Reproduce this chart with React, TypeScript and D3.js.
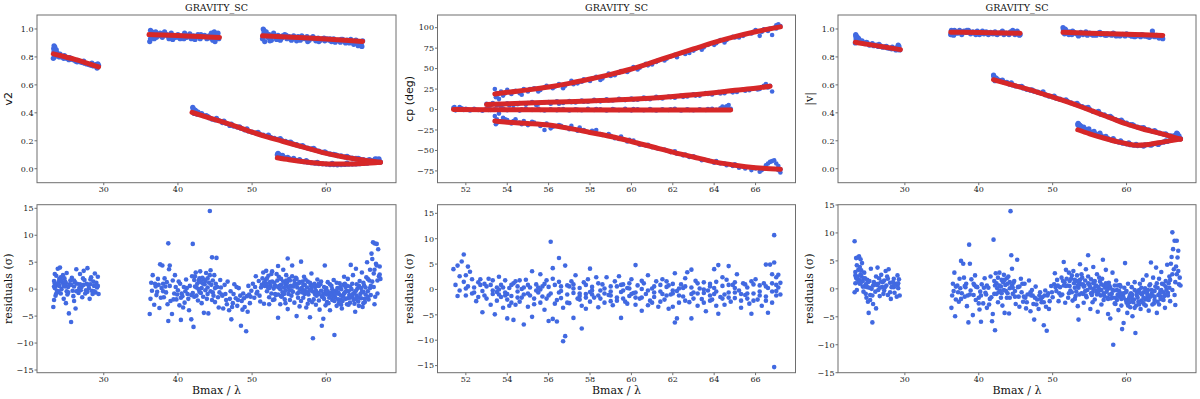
import React from 'react';
import * as d3 from 'd3';

type P = [number, number];

const TITLE = 'GRAVITY_SC';
const XLABEL = 'Bmax / λ';
const RES_LABEL = 'residuals (σ)';

const XTICKS_WIDE = [30, 40, 50, 60];
const XTICKS_CP = [52, 54, 56, 58, 60, 62, 64, 66];
const YTICKS_VIS = [0, 0.2, 0.4, 0.6, 0.8, 1.0];
const YTICKS_CP = [-75, -50, -25, 0, 25, 50, 75, 100];
const YTICKS_RES = [-15, -10, -5, 0, 5, 10, 15];

// ---------- V2 model ----------
const V2_MODEL_A: P[] = [[23.2, 0.822], [24.5, 0.805], [26, 0.784], [27.5, 0.76], [29.3, 0.728]];
const V2_MODEL_B: P[] = [[36.1, 0.96], [38, 0.957], [40, 0.953], [42, 0.948], [44, 0.943], [45.6, 0.939]];
const V2_MODEL_C: P[] = [[51.4, 0.951], [54, 0.945], [57, 0.937], [60, 0.928], [63, 0.918], [64.9, 0.911]];
const V2_MODEL_D: P[] = [[41.9, 0.403], [44, 0.368], [46, 0.335], [48, 0.3], [50, 0.262], [52, 0.228], [54, 0.198], [56, 0.168], [58, 0.138], [60, 0.11], [62, 0.088], [64, 0.07], [66, 0.055], [67.3, 0.046]];
const V2_MODEL_E: P[] = [[53.4, 0.078], [55, 0.064], [57, 0.05], [59, 0.039], [61, 0.033], [63, 0.033], [65, 0.037], [67.3, 0.046]];

// ---------- V2 data ----------
const V2_DATA_A: P[] = [[23.2, 0.79], [23.25, 0.86], [23.3, 0.88], [23.35, 0.8], [23.5, 0.84], [23.7, 0.83], [23.9, 0.81], [24.1, 0.82], [24.4, 0.8], [24.7, 0.81], [25.0, 0.79], [25.3, 0.78], [25.6, 0.785], [25.9, 0.78], [26.2, 0.77], [26.5, 0.775], [26.8, 0.765], [27.1, 0.76], [27.4, 0.755], [27.7, 0.75], [28.0, 0.745], [28.3, 0.74], [28.6, 0.735], [28.9, 0.745], [29.1, 0.72], [29.3, 0.74]];
const V2_DATA_B: P[] = [[36.2, 0.91], [36.3, 0.99], [36.4, 0.95], [36.6, 0.97], [36.8, 0.93], [37.0, 0.98], [37.3, 0.95], [37.6, 0.97], [37.9, 0.94], [38.2, 0.98], [38.5, 0.96], [38.8, 0.93], [39.1, 0.97], [39.4, 0.95], [39.7, 0.94], [40.0, 0.96], [40.3, 0.93], [40.6, 0.95], [40.9, 0.97], [41.2, 0.94], [41.5, 0.955], [41.8, 0.93], [42.1, 0.95], [42.4, 0.94], [42.7, 0.96], [43.0, 0.93], [43.3, 0.945], [43.6, 0.955], [43.9, 0.93], [44.2, 0.95], [44.5, 0.97], [44.7, 0.92], [44.9, 0.98], [45.1, 0.94], [45.3, 0.96], [45.5, 0.93]];
const V2_DATA_C: P[] = [[51.4, 0.93], [51.5, 1.0], [51.6, 0.97], [51.7, 0.91], [51.9, 0.98], [52.1, 0.94], [52.3, 0.96], [52.6, 0.92], [52.9, 0.97], [53.2, 0.94], [53.5, 0.955], [53.8, 0.92], [54.1, 0.95], [54.4, 0.96], [54.7, 0.93], [55.0, 0.945], [55.3, 0.92], [55.6, 0.95], [55.9, 0.935], [56.2, 0.945], [56.5, 0.92], [56.8, 0.94], [57.1, 0.93], [57.4, 0.945], [57.7, 0.92], [58.0, 0.935], [58.3, 0.93], [58.6, 0.915], [58.9, 0.935], [59.2, 0.92], [59.5, 0.93], [59.8, 0.915], [60.1, 0.93], [60.4, 0.92], [60.7, 0.91], [61.0, 0.93], [61.3, 0.915], [61.6, 0.92], [61.9, 0.905], [62.2, 0.925], [62.5, 0.91], [62.8, 0.92], [63.1, 0.9], [63.4, 0.915], [63.7, 0.89], [64.0, 0.92], [64.3, 0.88], [64.6, 0.9], [64.8, 0.875], [64.9, 0.915]];
const V2_DATA_D: P[] = [[42.0, 0.44], [42.1, 0.42], [42.2, 0.395], [42.4, 0.415], [42.7, 0.405], [43.0, 0.39], [43.4, 0.38], [43.8, 0.38], [44.2, 0.365], [44.6, 0.355], [45.0, 0.35], [45.5, 0.345], [46.0, 0.33], [46.5, 0.325], [47.0, 0.31], [47.5, 0.305], [48.0, 0.298], [48.5, 0.29], [49.0, 0.278], [49.5, 0.27], [50.0, 0.262], [50.5, 0.255], [51.0, 0.248], [51.5, 0.24], [52.0, 0.232], [52.5, 0.225], [53.0, 0.218], [53.5, 0.21], [54.0, 0.203], [54.5, 0.195], [55.0, 0.188], [55.5, 0.178], [56.0, 0.172], [56.5, 0.162], [57.0, 0.157], [57.5, 0.148], [58.0, 0.142], [58.5, 0.135], [59.0, 0.127], [59.5, 0.118], [60.0, 0.114], [60.5, 0.106], [61.0, 0.102], [61.5, 0.094], [62.0, 0.092], [62.5, 0.085], [63.0, 0.082], [63.5, 0.076], [64.0, 0.074], [64.5, 0.068], [65.0, 0.066], [65.5, 0.06], [66.0, 0.06], [66.5, 0.062], [66.8, 0.068], [67.0, 0.058], [67.2, 0.05]];
const V2_DATA_E: P[] = [[53.4, 0.1], [53.5, 0.11], [53.6, 0.085], [53.8, 0.095], [54.0, 0.09], [54.3, 0.082], [54.6, 0.075], [55.0, 0.072], [55.4, 0.066], [55.8, 0.062], [56.2, 0.058], [56.6, 0.055], [57.0, 0.05], [57.5, 0.047], [58.0, 0.043], [58.5, 0.04], [59.0, 0.037], [59.5, 0.035], [60.0, 0.033], [60.5, 0.03], [61.0, 0.03], [61.5, 0.028], [62.0, 0.03], [62.5, 0.031], [63.0, 0.032], [63.5, 0.033], [64.0, 0.034], [64.5, 0.036], [65.0, 0.038], [65.5, 0.04], [66.0, 0.045], [66.4, 0.05], [66.8, 0.058], [67.1, 0.062], [67.3, 0.048]];
const V2_DATA_SCATTER: P[] = [[23.3, 0.84], [23.4, 0.87], [23.6, 0.85], [24.0, 0.8], [24.6, 0.79], [25.4, 0.795], [26.4, 0.765], [27.3, 0.77], [28.4, 0.755], [29.2, 0.75],
  [36.3, 0.93], [36.5, 0.98], [37.1, 0.94], [37.8, 0.96], [38.6, 0.95], [39.3, 0.925], [40.1, 0.94], [40.8, 0.93], [41.6, 0.965], [42.3, 0.925], [43.1, 0.96], [43.8, 0.945], [44.4, 0.935], [44.8, 0.955], [45.0, 0.91], [45.4, 0.97],
  [51.5, 0.95], [51.6, 0.99], [52.0, 0.96], [52.4, 0.915], [52.8, 0.95], [53.3, 0.925], [54.0, 0.935], [54.6, 0.955], [55.4, 0.935], [56.0, 0.915], [56.7, 0.95], [57.5, 0.91], [58.2, 0.945], [59.0, 0.91], [59.7, 0.935], [60.5, 0.93], [61.2, 0.905], [62.0, 0.925], [62.6, 0.9], [63.3, 0.925], [63.9, 0.905], [64.4, 0.91], [64.7, 0.89],
  [42.05, 0.43], [42.3, 0.42], [42.6, 0.39], [43.2, 0.395], [44.0, 0.375], [45.2, 0.36], [46.2, 0.34], [47.2, 0.32], [48.3, 0.3], [49.3, 0.285], [50.8, 0.26], [52.2, 0.24], [53.8, 0.215], [55.2, 0.19], [56.8, 0.165], [58.3, 0.145], [59.8, 0.12], [61.3, 0.1], [62.8, 0.088], [64.3, 0.075], [65.8, 0.065], [66.6, 0.07], [67.1, 0.07],
  [53.45, 0.105], [53.7, 0.1], [54.1, 0.095], [54.8, 0.082], [55.6, 0.075], [56.4, 0.065], [57.3, 0.058], [58.8, 0.045], [60.8, 0.038], [62.8, 0.04], [64.8, 0.044], [66.2, 0.055], [66.9, 0.065]];

// ---------- CP model ----------
const CP_MODEL_FLAT: P[] = [[51.4, 0], [55, -0.3], [60, -0.5], [64.8, -0.6]];
const CP_MODEL_UP: P[] = [[53.4, 19], [54, 21], [55, 24], [56, 27.5], [57, 32], [58, 37.3], [59, 43], [60, 49.5], [61, 57.5], [62, 66], [63, 74], [64, 82], [65, 89], [66, 95], [67.2, 101]];
const CP_MODEL_MID: P[] = [[53, 6], [56, 8.8], [58, 10.5], [60, 12.5], [62, 16], [64, 20.5], [65, 23.5], [66, 26], [66.7, 28.5]];
const CP_MODEL_LOW: P[] = [[53.4, -14], [54, -15.5], [55, -17], [56, -19], [57, -23], [58, -28], [59, -33], [60, -39], [61, -45.5], [62, -52], [63, -58], [64, -64], [65, -68], [66, -71], [67.2, -73]];

// ---------- CP data ----------
const CP_DATA_FLAT: P[] = [[51.4, 2], [51.5, -1], [51.6, 0.5], [51.7, 3], [51.8, 1.5], [51.9, -0.5], [52.0, 1], [52.2, -1.2], [52.4, 0.8], [52.6, -0.5], [52.8, -1.5], [53.0, 1.2], [53.2, -0.6], [53.4, 0.3], [53.6, -1.5], [53.8, 1.2], [54.0, -0.8], [54.3, 0.6], [54.6, -1.3], [54.9, 0.9], [55.2, -0.4], [55.5, 1.1], [55.8, -1.2], [56.1, 0.4], [56.4, -0.8], [56.7, 0.7], [57.0, -1.1], [57.3, 0.3], [57.6, -0.9], [57.9, 0.8], [58.2, -0.6], [58.5, 0.4], [58.8, -1.2], [59.1, 0.5], [59.4, -0.7], [59.7, 0.9], [60.0, -1.0], [60.3, 0.2], [60.6, -0.8], [60.9, 0.6], [61.2, -1.1], [61.5, 0.3], [61.8, -0.6], [62.1, 0.8], [62.4, -1.1], [62.7, 0.2], [63.0, -0.9], [63.3, 0.4], [63.6, -0.5], [63.9, 1.0], [64.1, -0.2], [64.3, 1.5], [64.5, 2.5], [64.6, 4], [64.7, 5.5], [64.8, 1],
  [51.45, 3], [51.75, 1], [52.1, 0], [52.5, -0.2], [53.1, -0.5], [53.9, -0.3], [54.7, 0.2], [55.6, -0.5], [56.5, 0.2], [57.4, -0.4], [58.3, 0.5], [59.2, -0.3], [60.1, 0.6], [61.0, -0.5], [61.9, 0.4], [62.8, -0.6], [63.7, 0.5], [64.4, 3.5], [64.65, 2.5]];
const CP_DATA_MID: P[] = [[53.0, 7], [53.1, 4], [53.3, 8], [53.5, 5], [53.7, 3.5], [54.0, 7.5], [54.3, 5.5], [54.6, 8], [54.9, 6], [55.2, 9], [55.5, 7], [55.8, 8.5], [56.1, 7], [56.4, 10], [56.7, 8], [57.0, 10.5], [57.3, 8.5], [57.6, 11], [57.9, 9.5], [58.2, 12], [58.5, 10], [58.8, 12.5], [59.1, 11], [59.4, 13], [59.7, 11.5], [60.0, 13.5], [60.3, 12], [60.6, 14.5], [60.9, 12.5], [61.2, 15.5], [61.5, 13.5], [61.8, 16], [62.1, 14.5], [62.4, 17], [62.7, 16], [63.0, 18.5], [63.3, 17], [63.6, 20], [63.9, 18.5], [64.2, 21.5], [64.5, 20], [64.8, 22.5], [65.1, 21.5], [65.4, 24.5], [65.7, 23.5], [66.0, 26], [66.2, 25], [66.4, 29], [66.5, 31], [66.6, 27], [66.8, 22],
  [53.2, 5], [53.6, 7], [54.1, 5], [54.5, 6.5], [55.0, 8], [55.4, 5.5], [56.0, 9], [56.5, 7], [57.1, 9], [57.7, 9.5], [58.3, 10.5], [58.9, 11], [59.5, 12], [60.1, 12], [60.7, 13], [61.3, 14], [61.9, 15], [62.5, 15.5], [63.1, 17], [63.7, 19], [64.3, 19.5], [64.9, 21], [65.5, 23], [66.1, 24.5], [66.7, 29]];
const CP_DATA_UP: P[] = [[53.4, 25], [53.45, 15], [53.5, 20], [53.6, 13], [53.7, 22], [53.8, 17], [54.0, 24], [54.2, 19], [54.4, 23], [54.6, 20], [54.8, 25], [55.0, 22], [55.3, 26], [55.6, 24], [55.9, 29], [56.2, 26], [56.5, 31], [56.8, 29], [57.1, 35], [57.4, 32], [57.7, 37], [58.0, 35], [58.3, 40], [58.6, 38], [58.9, 44], [59.2, 42], [59.5, 47], [59.8, 46], [60.1, 52], [60.4, 51], [60.7, 56], [61.0, 55], [61.3, 60], [61.6, 60], [61.9, 65], [62.2, 64], [62.5, 70], [62.8, 69], [63.1, 74], [63.4, 73], [63.7, 79], [64.0, 79], [64.3, 85], [64.6, 85], [64.9, 89], [65.2, 88], [65.5, 92], [65.8, 93], [66.0, 97], [66.2, 90], [66.4, 98], [66.6, 96], [66.8, 91], [66.9, 100], [67.0, 103], [67.1, 104], [67.2, 102],
  [53.5, 17], [53.9, 20], [54.3, 22], [54.7, 18], [55.1, 25], [55.5, 22], [55.8, 27], [56.3, 28], [56.7, 26], [57.2, 31], [57.6, 34], [58.1, 38], [58.5, 36], [59.0, 41], [59.4, 45], [59.9, 48], [60.3, 49], [60.8, 54], [61.2, 58], [61.7, 62], [62.1, 67], [62.6, 68], [63.0, 72], [63.5, 76], [64.1, 81], [64.5, 82], [65.0, 88], [65.4, 90], [65.9, 95], [66.3, 95], [66.7, 99], [67.0, 99]];
const CP_DATA_LOW: P[] = [[53.4, -8], [53.45, -18], [53.5, -12], [53.6, -5], [53.7, -14], [53.8, -10], [54.0, -13], [54.2, -17], [54.4, -12], [54.6, -16], [54.8, -14], [55.0, -19], [55.3, -16], [55.6, -20], [55.8, -25], [55.9, -17], [56.2, -21], [56.5, -19], [56.8, -22], [57.1, -20], [57.4, -26], [57.7, -25], [58.0, -28], [58.3, -25], [58.6, -31], [58.9, -30], [59.2, -35], [59.5, -33], [59.8, -39], [60.1, -38], [60.4, -43], [60.7, -44], [61.0, -46], [61.3, -48], [61.6, -49], [61.9, -52], [62.2, -54], [62.5, -56], [62.8, -58], [63.1, -59], [63.4, -62], [63.7, -62], [64.0, -65], [64.3, -66], [64.6, -68], [64.9, -69], [65.2, -71], [65.5, -72], [65.8, -74], [66.0, -72], [66.2, -76], [66.4, -72], [66.5, -68], [66.7, -64], [66.9, -62], [67.0, -66], [67.1, -69], [67.2, -77], [67.2, -73],
  [53.5, -16], [53.9, -12], [54.3, -14], [54.7, -18], [55.2, -15], [55.7, -18], [56.1, -23], [56.6, -20], [57.0, -24], [57.5, -22], [58.1, -26], [58.5, -30], [59.0, -32], [59.4, -36], [59.9, -37], [60.3, -41], [60.8, -43], [61.2, -47], [61.7, -50], [62.1, -51], [62.6, -55], [63.0, -57], [63.5, -61], [64.1, -63], [64.5, -66], [65.0, -67], [65.4, -70], [65.9, -71], [66.3, -74], [66.6, -66], [66.8, -63], [67.1, -74]];

// ---------- |V| model ----------
const VIS_MODEL_A: P[] = [[23.3, 0.905], [25, 0.89], [27, 0.873], [29.4, 0.852]];
const VIS_MODEL_B: P[] = [[36.2, 0.977], [40, 0.975], [45.6, 0.97]];
const VIS_MODEL_C: P[] = [[51.4, 0.976], [55, 0.97], [60, 0.962], [64.9, 0.954]];
const VIS_MODEL_D: P[] = [[42, 0.637], [44, 0.607], [46, 0.578], [48, 0.547], [50, 0.513], [52, 0.478], [54, 0.44], [56, 0.4], [58, 0.36], [60, 0.32], [62, 0.288], [64, 0.26], [66, 0.232], [67.3, 0.212]];
const VIS_MODEL_E: P[] = [[53.4, 0.279], [55, 0.25], [57, 0.218], [59, 0.19], [60, 0.179], [61.3, 0.168], [63, 0.174], [65, 0.192], [67.3, 0.212]];

// ---------- |V| data ----------
const VIS_DATA_A: P[] = [[23.3, 0.9], [23.35, 0.96], [23.4, 0.93], [23.5, 0.945], [23.6, 0.915], [23.8, 0.925], [24.0, 0.91], [24.3, 0.905], [24.6, 0.895], [24.9, 0.9], [25.2, 0.885], [25.5, 0.89], [25.8, 0.88], [26.1, 0.885], [26.4, 0.875], [26.7, 0.88], [27.0, 0.87], [27.3, 0.872], [27.6, 0.865], [27.9, 0.862], [28.2, 0.858], [28.5, 0.86], [28.8, 0.85], [29.0, 0.87], [29.1, 0.885], [29.3, 0.85]];
const VIS_DATA_B: P[] = [[36.2, 0.96], [36.3, 0.99], [36.4, 0.975], [36.6, 0.955], [36.8, 0.985], [37.1, 0.97], [37.4, 0.99], [37.7, 0.96], [38.0, 0.985], [38.3, 0.975], [38.6, 0.99], [38.9, 0.965], [39.2, 0.98], [39.5, 0.97], [39.8, 0.985], [40.1, 0.96], [40.4, 0.975], [40.7, 0.965], [41.0, 0.98], [41.3, 0.96], [41.6, 0.975], [41.9, 0.965], [42.2, 0.98], [42.5, 0.96], [42.8, 0.97], [43.1, 0.975], [43.4, 0.96], [43.7, 0.97], [44.0, 0.965], [44.3, 0.98], [44.6, 0.99], [44.9, 0.96], [45.2, 0.985], [45.5, 0.955]];
const VIS_DATA_C: P[] = [[51.4, 1.01], [51.5, 0.985], [51.6, 0.965], [51.8, 0.99], [52.0, 0.97], [52.3, 0.98], [52.6, 0.96], [52.9, 0.975], [53.2, 0.965], [53.5, 0.95], [53.8, 0.975], [54.1, 0.96], [54.4, 0.97], [54.7, 0.955], [55.0, 0.97], [55.3, 0.96], [55.6, 0.965], [55.9, 0.955], [56.2, 0.97], [56.5, 0.96], [56.8, 0.965], [57.1, 0.955], [57.4, 0.965], [57.7, 0.96], [58.0, 0.955], [58.3, 0.965], [58.6, 0.95], [58.9, 0.96], [59.2, 0.955], [59.5, 0.962], [59.8, 0.95], [60.1, 0.96], [60.4, 0.955], [60.7, 0.948], [61.0, 0.96], [61.3, 0.95], [61.6, 0.955], [61.9, 0.945], [62.2, 0.958], [62.5, 0.948], [62.8, 0.952], [63.1, 0.94], [63.4, 0.95], [63.5, 0.985], [63.8, 0.945], [64.1, 0.955], [64.4, 0.935], [64.7, 0.95], [64.9, 0.93]];
const VIS_DATA_D: P[] = [[42.0, 0.67], [42.1, 0.645], [42.2, 0.63], [42.4, 0.645], [42.7, 0.635], [43.0, 0.63], [43.4, 0.62], [43.8, 0.618], [44.2, 0.605], [44.6, 0.6], [45.0, 0.592], [45.5, 0.588], [46.0, 0.578], [46.5, 0.568], [47.0, 0.562], [47.5, 0.555], [48.0, 0.548], [48.5, 0.54], [49.0, 0.53], [49.5, 0.52], [50.0, 0.515], [50.5, 0.505], [51.0, 0.498], [51.5, 0.49], [52.0, 0.482], [52.5, 0.472], [53.0, 0.463], [53.5, 0.455], [54.0, 0.445], [54.5, 0.435], [55.0, 0.425], [55.5, 0.41], [56.0, 0.405], [56.5, 0.39], [57.0, 0.385], [57.5, 0.372], [58.0, 0.365], [58.5, 0.352], [59.0, 0.345], [59.5, 0.335], [60.0, 0.326], [60.5, 0.315], [61.0, 0.308], [61.5, 0.298], [62.0, 0.293], [62.5, 0.283], [63.0, 0.278], [63.5, 0.268], [64.0, 0.264], [64.5, 0.255], [65.0, 0.248], [65.5, 0.24], [66.0, 0.236], [66.5, 0.228], [66.8, 0.24], [67.0, 0.222], [67.2, 0.215]];
const VIS_DATA_E: P[] = [[53.4, 0.315], [53.5, 0.32], [53.6, 0.29], [53.8, 0.305], [54.0, 0.295], [54.3, 0.288], [54.6, 0.28], [55.0, 0.268], [55.4, 0.26], [55.8, 0.25], [56.2, 0.242], [56.6, 0.235], [57.0, 0.225], [57.5, 0.215], [58.0, 0.205], [58.5, 0.198], [59.0, 0.19], [59.5, 0.183], [60.0, 0.178], [60.5, 0.172], [61.0, 0.168], [61.5, 0.166], [62.0, 0.168], [62.5, 0.17], [63.0, 0.173], [63.5, 0.176], [64.0, 0.18], [64.5, 0.184], [65.0, 0.19], [65.5, 0.195], [66.0, 0.205], [66.4, 0.218], [66.7, 0.245], [66.9, 0.25], [67.1, 0.235], [67.3, 0.215]];
const VIS_DATA_SCATTER: P[] = [[23.35, 0.95], [23.45, 0.92], [23.7, 0.935], [24.2, 0.915], [24.8, 0.905], [25.6, 0.895], [26.5, 0.89], [27.5, 0.875], [28.3, 0.87], [29.2, 0.875],
  [36.3, 0.96], [36.7, 0.99], [37.5, 0.975], [38.4, 0.99], [39.6, 0.96], [40.5, 0.985], [41.4, 0.97], [42.3, 0.965], [43.2, 0.985], [44.1, 0.96], [44.7, 0.975], [45.3, 0.97], [45.6, 0.96],
  [51.45, 0.995], [51.7, 1.0], [52.2, 0.96], [52.7, 0.985], [53.6, 0.965], [54.5, 0.98], [55.5, 0.955], [56.4, 0.975], [57.3, 0.955], [58.2, 0.97], [59.1, 0.95], [60.0, 0.965], [61.1, 0.945], [62.0, 0.96], [62.9, 0.945], [63.6, 0.96], [64.3, 0.945], [64.8, 0.94],
  [42.05, 0.66], [42.3, 0.65], [43.2, 0.635], [44.4, 0.615], [45.8, 0.59], [47.2, 0.565], [48.7, 0.55], [50.2, 0.52], [51.8, 0.492], [53.3, 0.468], [54.8, 0.44], [56.2, 0.41], [57.8, 0.375], [59.3, 0.348], [60.8, 0.316], [62.3, 0.295], [63.8, 0.272], [65.3, 0.25], [66.4, 0.235], [67.0, 0.235],
  [53.45, 0.325], [53.7, 0.31], [54.2, 0.298], [54.9, 0.285], [55.6, 0.268], [56.4, 0.255], [57.2, 0.232], [58.2, 0.215], [59.2, 0.2], [60.3, 0.185], [61.3, 0.175], [62.3, 0.162], [63.3, 0.168], [64.3, 0.174], [65.3, 0.2], [66.0, 0.215], [66.5, 0.23], [66.8, 0.255]];

// ---------- residuals: V2 ----------
const RES_V2: P[] = [
  [23.2, -3.3], [23.3, -2.0], [23.3, 1.5], [23.4, 2.8], [23.4, 0.2], [23.5, -1.2], [23.6, 2.5], [23.7, 0.8], [23.8, 3.8], [23.9, -0.5], [24.0, 1.9], [24.1, 4.0], [24.2, -0.8], [24.4, 1.2], [24.5, 2.6], [24.6, -1.8], [24.8, 0.5], [24.9, -2.6], [25.0, 3.0], [25.1, -1.0], [25.3, -4.5], [25.4, 0.9], [25.6, -6.1], [25.7, 2.1], [25.8, -0.3], [26.0, -2.2], [26.2, -3.6], [26.3, 3.7], [26.4, 1.0], [26.6, -0.7], [26.8, 2.8], [27.0, 0.4], [27.1, -1.5], [27.3, 3.4], [27.4, 1.7], [27.6, -0.2], [27.8, 3.9], [27.9, 0.8], [28.1, -1.8], [28.3, 2.2], [28.5, -0.9], [28.6, 1.4], [28.8, 2.9], [28.9, -0.6], [29.1, 0.3], [29.2, 2.3], [29.3, -0.9],
  [24.3, 0.0], [25.2, 0.4], [26.1, 1.3], [26.9, -0.2], [27.7, 1.0], [24.7, 2.0], [25.9, -1.3], [28.7, 0.6], [23.5, 0.6], [24.9, 1.1], [26.7, 0.2], [28.2, 0.9],
  [36.2, -4.6], [36.3, -1.8], [36.4, 1.2], [36.5, -0.3], [36.6, 2.6], [36.8, -2.9], [37.0, 0.5], [37.1, -1.1], [37.3, 1.9], [37.5, -3.5], [37.6, 4.6], [37.8, 0.2], [37.9, 4.4], [38.1, -1.5], [38.2, 2.0], [38.4, -0.6], [38.5, 1.3], [38.7, 8.5], [38.7, -5.9], [38.8, 3.7], [38.9, 4.4], [39.0, -2.2], [39.2, -4.6], [39.3, 1.6], [39.5, -0.8], [39.6, 2.6], [39.8, -1.9], [40.0, -0.2], [40.2, -3.0], [40.3, 1.0], [40.4, -5.7], [40.6, -1.3], [40.8, 0.4], [40.9, -2.5], [41.1, 1.8], [41.3, -0.9], [41.5, -3.9], [41.6, 0.6], [41.8, -5.6], [41.9, 2.4], [42.0, 8.4], [42.1, -7.0], [42.2, -1.4], [42.4, 3.1], [42.5, 0.3], [42.7, -2.1], [42.8, 1.6], [43.0, 3.3], [43.1, -0.7], [43.3, 2.1], [43.5, -4.4], [43.6, 0.9], [43.8, 3.0], [43.9, -1.8], [44.1, -4.5], [44.2, 1.2], [44.3, 14.5], [44.4, 3.5], [44.6, 5.9], [44.7, -0.6], [44.9, 2.6], [45.0, -2.4], [45.2, 5.8], [45.3, 0.4], [45.5, -3.4], [45.7, 1.7], [45.9, -1.0], [46.1, -3.6], [46.3, 0.8], [46.5, -2.0], [46.7, 1.4], [46.9, -3.9], [47.1, -0.4], [47.2, -5.6], [47.4, -2.6], [47.6, 0.9], [47.8, -1.7], [48.0, -3.1], [48.2, 0.2], [48.5, -6.8], [48.6, -2.2], [48.8, -0.8], [49.0, -3.3], [49.2, -7.8], [49.3, -1.3], [49.5, 0.6], [49.7, -2.6], [49.9, -0.3],
  [42.3, 0.5], [42.9, -0.5], [43.4, 1.0], [43.7, -0.2], [44.0, 2.0], [44.5, 0.8], [44.8, -1.2], [43.2, 0.2], [42.6, 1.0], [38.3, 0.5], [38.0, 1.0], [39.9, -1.0], [40.5, -0.8], [37.2, -0.5], [41.0, -0.4], [46.0, -1.2], [47.0, -1.8], [48.4, -1.2],
  [50.1, 1.0], [50.3, -1.6], [50.5, 2.4], [50.7, -0.5], [50.9, 1.5], [51.1, -2.3], [51.3, 0.8], [51.5, 3.1], [51.6, -2.7], [51.8, 1.7], [51.9, 3.4], [52.0, -0.4], [52.2, 2.5], [52.3, -1.5], [52.5, 0.6], [52.7, 3.3], [52.8, -2.0], [53.0, 1.2], [53.1, -0.9], [53.3, 2.8], [53.5, -5.3], [53.5, 4.3], [53.6, 0.3], [53.8, -2.8], [53.9, 1.9], [54.1, -0.6], [54.2, 3.6], [54.4, -1.9], [54.5, 0.9], [54.6, 2.6], [54.8, 5.7], [54.8, -3.7], [55.0, -0.2], [55.1, 1.6], [55.3, -1.2], [55.4, 4.4], [55.6, 0.5], [55.7, -2.5], [55.9, 2.1], [56.0, -5.0], [56.1, -0.8], [56.3, 1.1], [56.4, -3.2], [56.6, 5.1], [56.7, 0.2], [56.9, -1.6], [57.0, 2.3], [57.2, -0.4], [57.3, -3.4], [57.5, 1.4], [57.6, -1.0], [57.8, -5.2], [57.9, 0.7], [58.0, 2.9], [58.2, -9.1], [58.3, -1.9], [58.5, 0.4], [58.6, -2.9], [58.8, 1.8], [58.9, -0.7], [59.1, -3.8], [59.2, 0.9], [59.4, -6.8], [59.5, -1.3], [59.6, -5.5], [59.8, 4.4], [59.9, -0.2], [60.1, -2.4], [60.2, 1.3], [60.4, -1.0], [60.5, -3.9], [60.7, 0.6], [60.8, -2.0], [61.0, 1.7], [61.1, -8.5], [61.2, -1.5], [61.4, -3.1], [61.5, 0.2], [61.7, -2.6], [61.8, 1.1], [62.0, -1.2], [62.1, -3.6], [62.3, 0.8], [62.4, 2.3], [62.6, -1.8], [62.7, -0.3], [62.9, 1.9], [63.0, -2.9], [63.2, 0.5], [63.3, 4.5], [63.5, -1.4], [63.6, 2.6], [63.8, -0.6], [63.9, -4.2], [64.0, 3.8], [64.2, 0.1], [64.3, -2.3], [64.5, 1.5], [64.6, -0.9], [64.8, 3.1], [64.9, -3.3], [65.1, 0.7], [65.2, -1.8], [65.4, 2.2], [65.5, 5.0], [65.6, -0.4], [65.8, 1.6], [65.9, 3.6], [66.0, -1.1], [66.1, 6.6], [66.2, 5.6], [66.3, 8.7], [66.4, 2.9], [66.5, 8.5], [66.5, -2.8], [66.6, -1.4], [66.7, 4.7], [66.8, 8.4], [66.8, 4.4], [66.9, 1.6], [67.0, 7.4], [67.1, 2.4], [67.2, 2.7], [67.3, 1.9],
  [52.1, 0.4], [52.4, 1.3], [52.6, -0.8], [52.9, 0.1], [53.2, -1.1], [53.4, 1.6], [53.7, 0.6], [54.0, -1.4], [54.3, 0.3], [54.7, 1.2], [54.9, -0.9], [55.2, 0.6], [55.5, -0.5], [55.8, 1.0], [56.2, -1.6], [56.5, 0.0], [56.8, 1.4], [57.1, -0.9], [57.4, 0.3], [57.7, -2.0], [58.1, -0.4], [58.4, 1.0], [58.7, -1.2], [59.0, 0.6], [59.3, -0.3], [59.7, -1.8], [60.0, 0.2], [60.3, -2.6], [60.6, -0.7], [60.9, -1.3], [61.3, -0.3], [61.6, -1.9], [61.9, 0.4], [62.2, -2.2], [62.5, -0.6], [62.8, -2.8], [63.1, -1.1], [63.4, 0.0], [63.7, -2.0], [64.1, -1.2], [64.4, 0.6], [64.7, -1.7], [65.0, -0.5], [65.3, 0.3], [65.7, -1.9], [53.8, 0.0], [55.0, 1.9], [56.0, 0.9], [57.0, -0.2], [58.0, 0.1], [59.0, -0.9], [60.0, -1.0], [61.0, -0.6], [62.0, 0.0], [63.0, -0.4], [64.0, -0.3], [65.0, 1.2], [54.5, -0.3], [58.5, -1.0], [62.5, 1.0]
];
const RES_V2_EXTRA: P[] = [
  [23.3, 0.5], [23.6, -0.8], [23.9, 1.3], [24.2, 2.2], [24.6, 0.6], [25.0, -0.4], [25.5, 1.6], [26.0, 0.5], [26.5, -0.3], [27.2, 2.0], [27.5, -0.8], [28.0, 0.2], [28.4, -0.3], [29.0, 1.2],
  [36.9, 1.0], [37.7, -1.6], [38.6, -2.8], [39.4, -1.9], [40.1, 1.4], [40.7, -3.4], [41.4, -1.8], [42.0, -0.7], [42.3, 2.4], [42.9, 2.0], [43.2, -2.6], [43.5, 1.8], [44.0, -0.9], [44.3, 2.6], [44.6, -2.0], [45.1, 1.0], [45.4, -1.5], [45.8, 0.3], [46.4, -0.9], [47.3, -3.3], [47.9, 0.4], [48.7, -3.8], [49.4, -4.2], [49.8, -1.4],
  [50.4, 0.4], [51.0, -1.2], [51.4, 2.0], [51.7, 0.6], [52.0, 2.0], [52.3, -2.8], [52.6, 2.8], [53.0, -1.9], [53.3, 0.5], [53.6, 2.3], [53.9, -1.3], [54.2, 1.4], [54.5, -2.6], [54.8, 0.4], [55.1, -2.0], [55.4, 2.4], [55.7, 0.9], [56.0, 1.9], [56.3, -0.6], [56.6, -2.2], [56.9, 0.8], [57.2, 1.8], [57.5, -2.7], [57.8, 1.2], [58.1, -2.4], [58.4, -0.6], [58.7, 0.6], [59.0, -2.1], [59.3, 1.4], [59.6, -0.8], [59.9, -3.0], [60.2, -0.4], [60.5, 0.9], [60.8, -1.1], [61.1, -2.2], [61.4, 1.2], [61.7, -0.9], [62.0, -2.9], [62.3, -1.4], [62.6, 0.4], [62.9, -1.7], [63.2, -2.5], [63.5, 1.0], [63.8, -2.7], [64.1, 0.9], [64.4, -3.1], [64.7, 0.2], [65.0, -2.6], [65.3, -1.0], [65.6, 1.9], [65.9, 0.2], [66.2, 1.4], [66.5, 3.6], [66.9, -0.8], [67.2, 4.2]
];
const RES_V2_CORE: P[] = [
  [23.4, 1.1], [23.7, -0.3], [24.0, 0.6], [24.3, 1.6], [24.8, 1.4], [25.2, -0.6], [25.6, 0.8], [26.0, 1.6], [26.3, -0.4], [26.8, 0.9], [27.3, 0.8], [27.8, -0.5], [28.2, 1.8], [28.7, -0.4], [29.2, 0.6],
  [37.4, 0.8], [38.0, -0.4], [38.9, 0.6], [39.7, 0.4], [40.4, -1.6], [41.2, 0.2], [41.8, -1.1], [42.2, 1.7], [42.5, -1.2], [42.8, 0.0], [43.1, 1.3], [43.4, -1.4], [43.7, 1.5], [44.0, 0.3], [44.4, -0.4], [44.7, 1.6], [45.0, 0.2], [45.6, -0.6], [46.6, -2.8], [47.5, -0.9], [48.1, -2.0], [48.9, -1.7], [49.6, -1.0],
  [50.6, -0.8], [51.2, 0.3], [51.6, 1.2], [52.0, 1.0], [52.3, 0.2], [52.7, 1.4], [53.1, 0.6], [53.5, -1.0], [53.9, 0.8], [54.3, -0.9], [54.6, 1.6], [55.0, 0.5], [55.3, -0.2], [55.7, 1.6], [56.1, 0.3], [56.4, 1.3], [56.8, -0.6], [57.1, 0.8], [57.5, -0.6], [57.8, -0.1], [58.2, 0.7], [58.6, -0.3], [59.0, 1.0], [59.4, -1.4], [59.7, 0.4], [60.1, -0.5], [60.4, -1.6], [60.8, 0.0], [61.2, -0.9], [61.6, -0.6], [62.0, -2.0], [62.4, -0.8], [62.8, 0.6], [63.2, -1.6], [63.6, -0.9], [64.0, -1.8], [64.4, -1.6], [64.8, -0.5], [65.2, -2.4], [65.6, -1.4], [66.0, 0.6], [66.4, 0.4]
];

// ---------- residuals: CP ----------
const RES_CP: P[] = [
  [51.4, 4.0], [51.5, 0.9], [51.6, -1.3], [51.6, 4.7], [51.7, 2.6], [51.8, 5.5], [51.9, 6.9], [51.9, 1.5], [52.0, -1.2], [52.1, 4.5], [52.1, 0.6], [52.2, 3.5], [52.3, 2.0], [52.4, 0.4], [52.5, -2.3], [52.6, 1.4], [52.7, 2.0], [52.8, -4.5], [52.8, -0.3], [52.9, -1.2], [53.0, 0.6], [53.1, 2.1], [53.2, -3.0], [53.3, 1.8], [53.3, -0.9], [53.4, -4.9], [53.5, 0.4], [53.5, -2.2], [53.6, 2.5], [53.7, -1.5], [53.7, 0.9], [53.8, -3.6], [53.9, 1.8], [53.9, -0.6], [54.0, -5.7], [54.0, -2.0], [54.1, 0.3], [54.2, -1.3], [54.3, -6.0], [54.3, 1.2], [54.4, -3.0], [54.5, -0.4], [54.6, 1.8], [54.6, -2.4], [54.7, 0.1], [54.8, -6.9], [54.8, -1.0], [54.9, 1.9], [55.0, -3.4], [55.1, 0.4], [55.2, -5.4], [55.2, 3.6], [55.3, -1.8], [55.4, 1.0], [55.5, -0.6], [55.6, 3.0], [55.6, -2.6], [55.7, 0.6], [55.8, -4.0], [55.9, 1.8], [56.0, -6.2], [56.1, 9.4], [56.1, -0.8], [56.2, 4.2], [56.2, -5.8], [56.3, 0.9], [56.4, -6.3], [56.4, -2.1], [56.5, 6.2], [56.5, 1.5], [56.6, -0.3], [56.7, -10.2], [56.7, -3.6], [56.8, -9.2], [56.8, 4.7], [56.9, 0.8], [57.0, -2.7], [57.1, 1.6], [57.2, -5.6], [57.2, -0.7], [57.3, 2.8], [57.4, -1.8], [57.5, 0.3], [57.6, -7.7], [57.6, -3.2], [57.7, 1.4], [57.8, -0.9], [57.9, 2.0], [58.0, -2.4], [58.0, 4.1], [58.1, 0.5], [58.2, -1.6], [58.3, 2.4], [58.4, -3.5], [58.5, -0.2], [58.6, 1.0], [58.7, -2.6], [58.8, 2.4], [58.9, -1.1], [59.0, 0.6], [59.1, -3.1], [59.2, 1.6], [59.3, -1.6], [59.4, 2.6], [59.5, -5.6], [59.5, -0.5], [59.6, 1.0], [59.7, -2.4], [59.8, 0.3], [59.9, -1.3], [60.0, 2.0], [60.1, -0.7], [60.2, 4.8], [60.2, -3.0], [60.3, 0.8], [60.4, -1.8], [60.5, -4.2], [60.6, 1.2], [60.7, -0.9], [60.8, 2.8], [60.9, -2.2], [61.0, 0.2], [61.1, -1.5], [61.2, 1.6], [61.3, -3.4], [61.4, -0.4], [61.5, 2.0], [61.6, -2.0], [61.7, 0.5], [61.8, -3.8], [61.9, -1.0], [62.0, 1.1], [62.1, -6.5], [62.1, 3.2], [62.2, -5.7], [62.2, -0.3], [62.3, -2.6], [62.4, 1.0], [62.5, -1.4], [62.6, 0.6], [62.7, 3.4], [62.8, -2.5], [62.9, -5.7], [62.9, 3.9], [63.0, -0.6], [63.1, 1.7], [63.2, -3.2], [63.3, 0.2], [63.4, -1.9], [63.5, 1.4], [63.6, -4.3], [63.7, -0.2], [63.8, 1.1], [63.9, -2.0], [64.0, 4.0], [64.0, -0.9], [64.1, 1.5], [64.2, 4.8], [64.2, -4.8], [64.3, -1.5], [64.4, 0.7], [64.5, -3.0], [64.6, 1.9], [64.7, 4.6], [64.7, -0.6], [64.8, -2.4], [64.9, 0.9], [65.0, -1.7], [65.1, 3.0], [65.2, -0.2], [65.3, -3.6], [65.4, 1.2], [65.5, -1.1], [65.6, 0.4], [65.7, -2.8], [65.8, -4.8], [65.8, 1.6], [65.9, -0.8], [66.0, 2.0], [66.1, -2.0], [66.2, 0.8], [66.3, -3.2], [66.4, 1.2], [66.5, 4.9], [66.5, -1.4], [66.6, -4.6], [66.6, 0.3], [66.7, 4.9], [66.8, -0.4], [66.8, 3.0], [66.9, 10.7], [66.9, -15.3], [66.9, 5.3], [67.0, 2.4], [67.0, -1.2], [67.1, 2.9], [67.1, 0.4], [67.2, -1.0], [67.2, 1.3],
  [53.5, -0.5], [54.0, -0.9], [54.5, 0.6], [55.0, -0.8], [55.5, 0.4], [56.0, -1.2], [56.5, -0.6], [57.0, 0.6], [57.5, -1.3], [58.0, -0.5], [58.5, -1.8], [59.0, -1.2], [59.5, 0.9], [60.0, -0.9], [60.5, 0.1], [61.0, -2.6], [61.5, -0.9], [62.0, -0.8], [62.5, 0.3], [63.0, -1.8], [63.5, -0.7], [64.0, 0.3], [64.5, -1.0], [65.0, 0.3], [65.5, 1.0], [54.2, 0.9], [55.8, 1.1], [57.8, 0.9], [59.8, -2.8], [61.8, 0.8], [63.8, -1.2]
];
const RES_CP_EXTRA: P[] = [
  [52.0, 2.8], [52.3, -0.8], [52.6, -1.5], [52.9, 1.1], [53.2, 0.9], [53.6, -1.0], [53.8, 0.4], [54.1, -3.2], [54.4, 1.6], [54.7, -1.6], [55.0, 0.9], [55.3, -2.9], [55.6, 0.0], [55.9, -1.8], [56.2, 2.1], [56.6, -1.7], [56.9, -2.6], [57.2, 1.0], [57.5, -2.0], [57.8, -3.8], [58.1, -1.0], [58.4, 1.2], [58.7, 0.2], [59.0, -2.3], [59.3, 0.6], [59.6, -1.8], [59.9, 1.2], [60.2, -1.6], [60.5, 1.7], [60.8, -3.1], [61.1, 0.6], [61.4, -2.4], [61.7, 1.6], [62.0, -3.4], [62.3, -1.2], [62.6, 2.2], [62.9, -0.9], [63.2, 1.2], [63.5, -2.6], [63.8, 0.6], [64.1, -3.2], [64.4, 2.4], [64.7, -1.6], [65.0, 1.4], [65.3, -2.2], [65.6, -0.8], [65.9, 1.0], [66.2, -1.2], [66.5, 0.6], [66.8, -2.6], [67.0, 0.9]
];
const RES_CP_CORE: P[] = [
  [51.7, -0.2], [52.0, 0.2], [52.4, -0.6], [52.7, 0.9], [53.0, -1.8], [53.3, -0.2], [53.6, 0.0], [53.9, -1.2], [54.2, -2.6], [54.5, -1.6], [54.8, 0.4], [55.1, -1.2], [55.4, -0.2], [55.7, -1.4], [56.0, 0.5], [56.3, -2.8], [56.6, 0.6], [56.9, -1.0], [57.2, 0.2], [57.5, -0.8], [57.8, -1.6], [58.1, -0.2], [58.4, -1.2], [58.7, -0.8], [59.0, -0.4], [59.3, -2.2], [59.6, -0.2], [59.9, 0.2], [60.2, -0.6], [60.5, -1.6], [60.8, -0.2], [61.1, -0.6], [61.4, 0.9], [61.7, -1.2], [62.0, -0.2], [62.3, 0.2], [62.6, -2.2], [62.9, 0.4], [63.2, -0.8], [63.5, 0.0], [63.8, -2.2], [64.1, -0.4], [64.4, -1.8], [64.7, 0.9], [65.0, -0.6], [65.3, -0.9], [65.6, -1.8], [65.9, -2.2], [66.2, -0.4], [66.5, -2.2], [66.8, 1.2], [67.0, -0.3]
];

// ---------- residuals: |V| ----------
const RES_VIS: P[] = [
  [23.2, 8.5], [23.2, -0.6], [23.3, 1.0], [23.3, 3.0], [23.4, 5.5], [23.5, 1.8], [23.5, -0.2], [23.6, 5.6], [23.7, 3.4], [23.8, 5.8], [23.9, 0.9], [24.0, 5.3], [24.1, 2.3], [24.2, 4.6], [24.3, 1.4], [24.4, -0.5], [24.5, 2.9], [24.6, 0.4], [24.8, -1.6], [24.9, 1.6], [25.0, -2.3], [25.1, -4.3], [25.2, 0.2], [25.3, -1.1], [25.4, 3.6], [25.6, -6.0], [25.7, -2.7], [25.8, 1.2], [26.0, -0.5], [26.1, -3.5], [26.2, 0.7], [26.3, 3.8], [26.5, 1.9], [26.6, -1.3], [26.8, 2.5], [26.9, 0.3], [27.1, -0.9], [27.2, 1.5], [27.4, 3.2], [27.5, 0.6], [27.7, -1.1], [27.8, 3.5], [28.0, 1.1], [28.1, -1.8], [28.3, 0.4], [28.5, 1.8], [28.6, -0.7], [28.8, 0.9], [28.9, -1.4], [29.0, 2.4], [29.1, 0.1], [29.2, 1.7], [29.3, -1.2], [24.0, 1.0], [24.7, 0.8], [25.5, 0.0], [26.4, 0.9], [27.0, 1.2], [28.4, 1.2], [23.6, 2.2], [23.9, 3.9],
  [36.3, -3.4], [36.4, -1.2], [36.5, 0.9], [36.6, -0.4], [36.7, 2.9], [36.8, -4.9], [36.9, -1.9], [37.1, 0.6], [37.3, -2.3], [37.4, 1.8], [37.6, 5.0], [37.7, -0.8], [37.9, 4.5], [38.0, 2.0], [38.1, -1.4], [38.3, 0.9], [38.4, -3.1], [38.6, -6.0], [38.7, 7.9], [38.8, 4.5], [38.9, -0.3], [39.0, 1.7], [39.2, -4.7], [39.3, -1.1], [39.5, 2.4], [39.6, -2.0], [39.8, 0.3], [40.0, -1.6], [40.1, -3.7], [40.3, -5.9], [40.4, 0.8], [40.6, -2.6], [40.8, 1.9], [40.9, -0.7], [41.1, -3.4], [41.3, 0.2], [41.5, -1.8], [41.6, 2.2], [41.8, -5.8], [41.9, -4.5], [42.0, 8.8], [42.1, -0.9], [42.2, -7.4], [42.3, 2.8], [42.5, 0.1], [42.6, -2.4], [42.8, 2.9], [42.9, -0.4], [43.1, 1.6], [43.2, -3.0], [43.4, 2.5], [43.5, -4.3], [43.6, 0.7], [43.8, -1.6], [44.0, 2.2], [44.1, -4.4], [44.3, 13.9], [44.4, 6.0], [44.5, 3.6], [44.6, -0.9], [44.8, 1.4], [45.0, -2.7], [45.2, 5.2], [45.3, 0.3], [45.5, -3.2], [45.7, 1.8], [45.8, -0.6], [46.0, -2.3], [46.2, 0.9], [46.4, -3.5], [46.6, -1.0], [46.8, 1.5], [47.0, -4.0], [47.2, -0.2], [47.4, -2.7], [47.5, -5.5], [47.7, 0.4], [47.9, -1.9], [48.1, -3.6], [48.3, -0.6], [48.5, -2.4], [48.8, -6.5], [48.9, -1.2], [49.1, -3.2], [49.2, -7.5], [49.4, -0.8], [49.6, -2.2], [49.8, 0.5],
  [42.4, 1.0], [42.7, -0.6], [43.0, 0.4], [43.3, 1.2], [43.7, -0.4], [43.9, 0.9], [44.2, 0.1], [44.7, 1.1], [38.2, 0.3], [39.4, 0.7], [40.2, -0.5], [41.0, -1.0], [37.5, 0.1], [46.1, -1.4], [47.3, -1.2], [48.6, -1.5],
  [50.0, -1.5], [50.2, 0.8], [50.3, 2.8], [50.5, -0.4], [50.6, 1.6], [50.8, -2.2], [51.0, 0.3], [51.2, 2.0], [51.3, -1.0], [51.5, 4.8], [51.6, 1.2], [51.7, -2.5], [51.8, 3.4], [52.0, 0.6], [52.1, -1.6], [52.2, 2.9], [52.4, -0.3], [52.5, 1.8], [52.7, -2.1], [52.8, 3.2], [53.0, 0.2], [53.1, -1.3], [53.3, 2.4], [53.4, -3.1], [53.5, -5.5], [53.6, 1.0], [53.7, 4.4], [53.9, -0.8], [54.0, 2.0], [54.2, -2.5], [54.3, 0.5], [54.5, 3.5], [54.6, -1.5], [54.8, 6.0], [54.9, 0.9], [55.1, -3.6], [55.2, 1.7], [55.4, -0.6], [55.5, 3.9], [55.7, -1.9], [55.8, 0.4], [56.0, 2.6], [56.1, -4.1], [56.3, -0.2], [56.4, 1.3], [56.6, -2.8], [56.8, 5.2], [56.9, 0.6], [57.0, -1.3], [57.2, 3.4], [57.3, -0.5], [57.5, -4.5], [57.6, 1.1], [57.8, -5.3], [57.9, -1.7], [58.1, 2.9], [58.2, -10.0], [58.3, -0.3], [58.5, -2.7], [58.6, 1.5], [58.8, -1.0], [58.9, -3.8], [59.1, 0.7], [59.3, -1.8], [59.4, -7.2], [59.6, -6.1], [59.7, 0.2], [59.8, 4.6], [60.0, -2.5], [60.1, -4.3], [60.2, 0.9], [60.4, -1.4], [60.5, -3.3], [60.7, 0.3], [60.8, -4.9], [61.0, -1.9], [61.1, 1.2], [61.2, -7.9], [61.3, -3.0], [61.5, -0.5], [61.6, -2.3], [61.8, 0.9], [61.9, -3.6], [62.1, -1.0], [62.2, 1.6], [62.4, -2.8], [62.5, 0.1], [62.7, 2.4], [62.8, -1.5], [63.0, -3.9], [63.1, 0.6], [63.3, 4.7], [63.4, -0.9], [63.6, 2.0], [63.7, -2.6], [63.9, 0.4], [64.0, 3.8], [64.1, -4.3], [64.3, -1.1], [64.4, 1.8], [64.6, -0.3], [64.7, 3.0], [64.9, -1.9], [65.0, 0.8], [65.2, -3.4], [65.3, 1.4], [65.5, 4.3], [65.6, -0.7], [65.8, 2.2], [65.9, -2.2], [66.0, 4.5], [66.1, 5.7], [66.2, 10.1], [66.3, 7.1], [66.4, 3.5], [66.5, 8.6], [66.5, -1.1], [66.6, -2.9], [66.7, 4.0], [66.8, 8.6], [66.8, 2.6], [66.9, 5.6], [67.0, 6.8], [67.1, 0.8], [67.2, 2.0], [67.3, 0.6],
  [52.3, 0.5], [52.9, 1.0], [53.2, -0.5], [53.8, 0.8], [54.1, -0.9], [54.4, 1.5], [54.7, -0.2], [55.0, 0.6], [55.3, -1.1], [55.6, 1.2], [55.9, -0.4], [56.2, 0.3], [56.5, -1.2], [56.7, 1.8], [57.1, 0.2], [57.4, -1.6], [57.7, 0.5], [58.0, -0.9], [58.4, 0.6], [58.7, -2.0], [59.0, -0.4], [59.5, -1.2], [59.9, -0.6], [60.3, -1.8], [60.6, -0.8], [60.9, -2.4], [61.4, -1.2], [61.7, -0.2], [62.0, -2.1], [62.3, -0.6], [62.6, -1.9], [62.9, -0.2], [63.2, -1.4], [63.5, -2.8], [63.8, -0.4], [64.2, -2.3], [64.5, -0.8], [64.8, 0.9], [65.1, -1.3], [65.4, -0.2], [65.7, 1.0], [53.5, 0.2], [55.5, 0.0], [57.5, 0.0], [59.2, 0.4], [60.8, -1.0], [62.8, -0.9], [64.6, -1.4]
];
const RES_VIS_EXTRA: P[] = [
  [23.3, 2.4], [23.5, 4.2], [23.8, 1.6], [24.1, 3.3], [24.4, 1.9], [24.7, -0.9], [25.0, 1.2], [25.3, -2.0], [25.7, 0.6], [26.1, 2.2], [26.6, 0.2], [27.2, -0.3], [27.6, 2.2], [28.0, -0.6], [28.5, 0.3], [29.0, 0.6],
  [36.9, 0.4], [37.6, -1.8], [38.5, -1.2], [39.3, 0.9], [40.0, -2.6], [40.7, 0.2], [41.4, -2.8], [42.2, 0.6], [42.6, 2.0], [43.0, -1.6], [43.4, -0.2], [43.8, 1.9], [44.2, -1.6], [44.5, 0.6], [44.9, -0.4], [45.4, -1.4], [45.9, 0.9], [46.5, -2.4], [47.1, -1.2], [47.8, -2.8], [48.4, -1.8], [49.0, -0.3], [49.5, -3.6],
  [50.4, 0.3], [50.9, -0.8], [51.4, 1.4], [51.8, 0.5], [52.2, -0.8], [52.6, 2.4], [53.0, -1.8], [53.3, 1.4], [53.6, -1.0], [53.9, 2.6], [54.2, 0.4], [54.5, -1.2], [54.8, 2.2], [55.1, 0.2], [55.4, -2.4], [55.7, 1.4], [56.0, -1.0], [56.3, 2.0], [56.6, -0.2], [56.9, -2.0], [57.2, 1.0], [57.5, -1.8], [57.8, 0.2], [58.1, -1.6], [58.4, -2.6], [58.7, -0.2], [59.0, -1.4], [59.3, -3.0], [59.6, -0.8], [59.9, -2.0], [60.2, -3.0], [60.5, -1.0], [60.8, -2.0], [61.1, -3.4], [61.4, -0.6], [61.7, -2.8], [62.0, 0.2], [62.3, -1.6], [62.6, -3.0], [62.9, -1.2], [63.2, 0.8], [63.5, -1.2], [63.8, -2.0], [64.1, 1.0], [64.4, -2.8], [64.7, -0.2], [65.0, -2.0], [65.3, 0.4], [65.6, -1.2], [65.9, 1.6], [66.2, 2.6], [66.6, 1.2], [67.0, 3.2]
];
const RES_VIS_CORE: P[] = [
  [23.4, 2.0], [23.7, 1.2], [24.0, 2.6], [24.3, 0.4], [24.6, 1.9], [24.9, 0.3], [25.2, 1.4], [25.6, -1.2], [26.0, 0.9], [26.4, -0.2], [26.8, 1.3], [27.3, 0.3], [27.7, 1.8], [28.2, 0.3], [28.6, 0.8], [29.1, 1.0],
  [37.2, -0.6], [38.1, 0.5], [38.8, -1.0], [39.6, 0.4], [40.3, -1.2], [41.1, 0.6], [41.7, -1.5], [42.1, 1.4], [42.4, -0.9], [42.8, 0.6], [43.1, -0.8], [43.5, 1.6], [43.9, -0.8], [44.2, 1.2], [44.6, 0.2], [44.9, -1.4], [45.5, 0.4], [46.3, -1.6], [47.0, -0.6], [47.6, -1.6], [48.2, -1.2], [48.8, -2.4], [49.3, -1.2], [49.9, -0.6],
  [50.7, 0.6], [51.1, -1.2], [51.5, 0.6], [51.9, 1.8], [52.3, 1.4], [52.6, -0.6], [53.0, 1.6], [53.4, 0.6], [53.7, 1.6], [54.1, 0.8], [54.4, -0.4], [54.8, 1.0], [55.2, -0.8], [55.5, 1.0], [55.9, 0.6], [56.2, -0.8], [56.6, 0.8], [56.9, -0.8], [57.3, 0.6], [57.7, -1.0], [58.1, -0.2], [58.5, -1.6], [58.8, 0.6], [59.2, -0.8], [59.6, -1.6], [60.0, -0.4], [60.4, -2.4], [60.7, -1.4], [61.1, -0.2], [61.5, -1.6], [61.9, -0.8], [62.2, -2.4], [62.6, -0.4], [63.0, -2.0], [63.4, -0.2], [63.8, -1.4], [64.2, 0.2], [64.6, -1.8], [65.0, -0.6], [65.4, -1.0], [65.8, 0.2], [66.2, -0.2]
];

// ---------- layout ----------
const COLS = [{ l: 37, r: 396 }, { l: 437.5, r: 795.5 }, { l: 838, r: 1196 }];
const ROW_TOP = { t: 15, b: 182.7 };
const ROW_BOT = { t: 204.7, b: 372.7 };
const BLUE = '#4169e1';
const RED = '#d62728';
const SERIF = '"DejaVu Serif", serif';
const SANS = '"DejaVu Sans", sans-serif';
const FRAME = '#6e6e6e';

const fmtMinus = (s: string) => s.replace('-', '\u2212');

interface PanelProps {
  col: { l: number; r: number };
  row: { t: number; b: number };
  xDomain: [number, number];
  yDomain: [number, number];
  xTicks: number[];
  yTicks: number[];
  yFmt: (v: number) => string;
  data: P[][];
  models: P[][];
  r: number;
  title?: string;
  ylabel: string;
  ylabelFont: string;
  xlabel?: string;
}

function Panel(p: PanelProps) {
  const x = d3.scaleLinear().domain(p.xDomain).range([p.col.l, p.col.r]);
  const y = d3.scaleLinear().domain(p.yDomain).range([p.row.b, p.row.t]);
  const line = d3.line<P>().x(d => x(d[0])).y(d => y(d[1])).curve(d3.curveMonotoneX);
  const cx = (p.col.l + p.col.r) / 2;
  const cy = (p.row.t + p.row.b) / 2;
  return (
    <g>
      {p.title && (
        <text x={cx} y={p.row.t - 4} textAnchor="middle" fontFamily={SERIF} fontSize={9.5} fill="#111">{p.title}</text>
      )}
      {p.data.map((seg, i) => (
        <g key={'d' + i}>
          {seg.map((d, j) => (
            <circle key={j} cx={x(d[0])} cy={y(d[1])} r={p.r} fill={BLUE} />
          ))}
        </g>
      ))}
      {p.models.map((seg, i) => (
        <path key={'m' + i} d={line(seg) || ''} fill="none" stroke={RED} strokeWidth={5} strokeLinecap="round" />
      ))}
      <rect x={p.col.l} y={p.row.t} width={p.col.r - p.col.l} height={p.row.b - p.row.t} fill="none" stroke={FRAME} strokeWidth={1} />
      {p.xTicks.map(t => (
        <g key={'xt' + t}>
          <line x1={x(t)} x2={x(t)} y1={p.row.b} y2={p.row.b + 2.5} stroke={FRAME} />
          <text x={x(t)} y={p.row.b + 9} textAnchor="middle" fontFamily={SERIF} fontSize={8} fill="#222">{fmtMinus(String(t))}</text>
        </g>
      ))}
      {p.yTicks.map(t => (
        <g key={'yt' + t}>
          <line x1={p.col.l - 2.5} x2={p.col.l} y1={y(t)} y2={y(t)} stroke={FRAME} />
          <text x={p.col.l - 3.5} y={y(t)} dy="0.35em" textAnchor="end" fontFamily={SERIF} fontSize={8} fill="#222">{p.yFmt(t)}</text>
        </g>
      ))}
      <text transform={`translate(${p.col.l - 25},${cy}) rotate(-90)`} textAnchor="middle" fontFamily={p.ylabelFont} fontSize={11} fill="#111">{p.ylabel}</text>
      {p.xlabel && (
        <text x={cx} y={p.row.b + 21} textAnchor="middle" fontFamily={SERIF} fontSize={11} fill="#111">{p.xlabel}</text>
      )}
    </g>
  );
}

const fmt1 = (v: number) => fmtMinus(d3.format('.1f')(v));
const fmt0 = (v: number) => fmtMinus(d3.format('d')(v));

export default function App() {
  return (
    <svg width={1200} height={399} style={{ position: 'absolute', left: 0, top: 0, background: '#fff' }}>
      <rect x={0} y={0} width={1200} height={399} fill="#fff" />
      <Panel col={COLS[0]} row={ROW_TOP} xDomain={[21.0, 69.4]} yDomain={[-0.1, 1.1]} xTicks={XTICKS_WIDE} yTicks={YTICKS_VIS} yFmt={fmt1}
        data={[V2_DATA_A, V2_DATA_B, V2_DATA_C, V2_DATA_D, V2_DATA_E, V2_DATA_SCATTER]} models={[V2_MODEL_A, V2_MODEL_B, V2_MODEL_C, V2_MODEL_D, V2_MODEL_E]}
        r={2.6} title={TITLE} ylabel="v2" ylabelFont={SANS} />
      <Panel col={COLS[1]} row={ROW_TOP} xDomain={[50.63, 67.93]} yDomain={[-89.4, 115.5]} xTicks={XTICKS_CP} yTicks={YTICKS_CP} yFmt={fmt0}
        data={[CP_DATA_FLAT, CP_DATA_MID, CP_DATA_UP, CP_DATA_LOW]} models={[CP_MODEL_FLAT, CP_MODEL_MID, CP_MODEL_UP, CP_MODEL_LOW]}
        r={2.3} title={TITLE} ylabel="cp (deg)" ylabelFont={SANS} />
      <Panel col={COLS[2]} row={ROW_TOP} xDomain={[20.95, 69.4]} yDomain={[-0.1, 1.1]} xTicks={XTICKS_WIDE} yTicks={YTICKS_VIS} yFmt={fmt1}
        data={[VIS_DATA_A, VIS_DATA_B, VIS_DATA_C, VIS_DATA_D, VIS_DATA_E, VIS_DATA_SCATTER]} models={[VIS_MODEL_A, VIS_MODEL_B, VIS_MODEL_C, VIS_MODEL_D, VIS_MODEL_E]}
        r={2.6} title={TITLE} ylabel="|v|" ylabelFont={SERIF} />
      <Panel col={COLS[0]} row={ROW_BOT} xDomain={[21.0, 69.4]} yDomain={[-15.5, 15.67]} xTicks={XTICKS_WIDE} yTicks={YTICKS_RES} yFmt={fmt0}
        data={[RES_V2, RES_V2_EXTRA, RES_V2_CORE]} models={[]} r={2.3} ylabel={RES_LABEL} ylabelFont={SERIF} xlabel={XLABEL} />
      <Panel col={COLS[1]} row={ROW_BOT} xDomain={[50.63, 67.93]} yDomain={[-16.4, 16.7]} xTicks={XTICKS_CP} yTicks={YTICKS_RES} yFmt={fmt0}
        data={[RES_CP, RES_CP_EXTRA, RES_CP_CORE]} models={[]} r={2.3} ylabel={RES_LABEL} ylabelFont={SERIF} xlabel={XLABEL} />
      <Panel col={COLS[2]} row={ROW_BOT} xDomain={[20.95, 69.4]} yDomain={[-15.0, 15.05]} xTicks={XTICKS_WIDE} yTicks={YTICKS_RES} yFmt={fmt0}
        data={[RES_VIS, RES_VIS_EXTRA, RES_VIS_CORE]} models={[]} r={2.3} ylabel={RES_LABEL} ylabelFont={SERIF} xlabel={XLABEL} />
    </svg>
  );
}
